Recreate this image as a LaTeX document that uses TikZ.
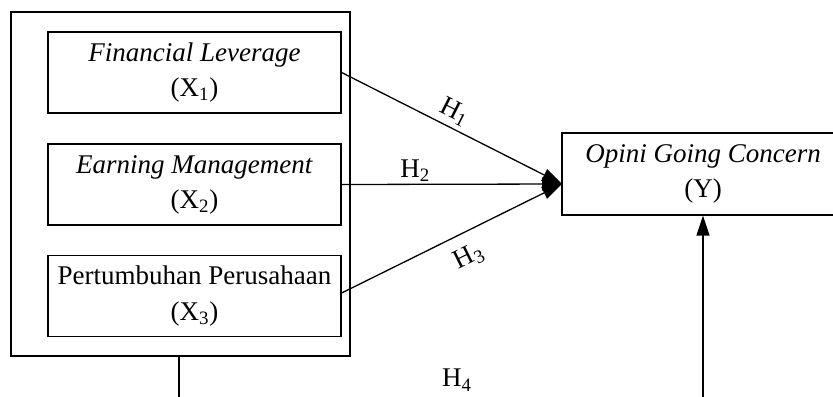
\documentclass[tikz,border=0pt]{standalone}
\usepackage{fontspec}
\setmainfont{Liberation Serif}
\usetikzlibrary{arrows.meta}
\begin{document}
\begin{tikzpicture}[x=0.5pt,y=-0.5pt,
  every node/.style={font=\fontsize{13.5}{17.5}\selectfont},
  box/.style={draw,line width=0.6pt,inner sep=0pt,align=center,minimum width=146.5pt,minimum height=40.5pt},
  conn/.style={line width=0.65pt},
  arr/.style={conn,-{Triangle[length=10pt,width=6.5pt]}},
  lab/.style={inner sep=1pt}]
\useasboundingbox (0,0) rectangle (833,396);
\clip (0,0) rectangle (833,396);
\node[draw,line width=0.6pt,minimum width=169.5pt,minimum height=172pt,inner sep=0pt] (outer) at (180.5,184) {};
\node[box] (b1) at (194.5,72.5) {\textit{Financial Leverage}\\(X\textsubscript{1})};
\node[box] (b2) at (194.5,184.5) {\textit{Earning Management}\\(X\textsubscript{2})};
\node[box] (b3) at (194.5,296) {Pertumbuhan Perusahaan\\(X\textsubscript{3})};
\node[box,minimum width=141pt,minimum height=41pt] (y) at (703,174) {\textit{Opini Going Concern}\\(Y)};
\coordinate (t) at (562,184);
\coordinate (o4) at (179,400);
\coordinate (y4) at (703,400);
\draw[arr] (b1.east) -- node[pos=0.48,sloped,above=1pt,lab] {H\textsubscript{1}} (t);
\draw[arr] (b2.east) -- node[pos=0.335,above,lab] {H\textsubscript{2}} (t);
\draw[arr] (b3.east |- 0,293) -- node[pos=0.53,sloped,below=5pt,lab] {H\textsubscript{3}} (t);
\draw[conn] (outer.south -| o4) -- (o4);
\draw[arr] (y4) -- (y.south -| y4);
\node (h4) at (457,380) {H\textsubscript{4}};
\end{tikzpicture}
\end{document}
